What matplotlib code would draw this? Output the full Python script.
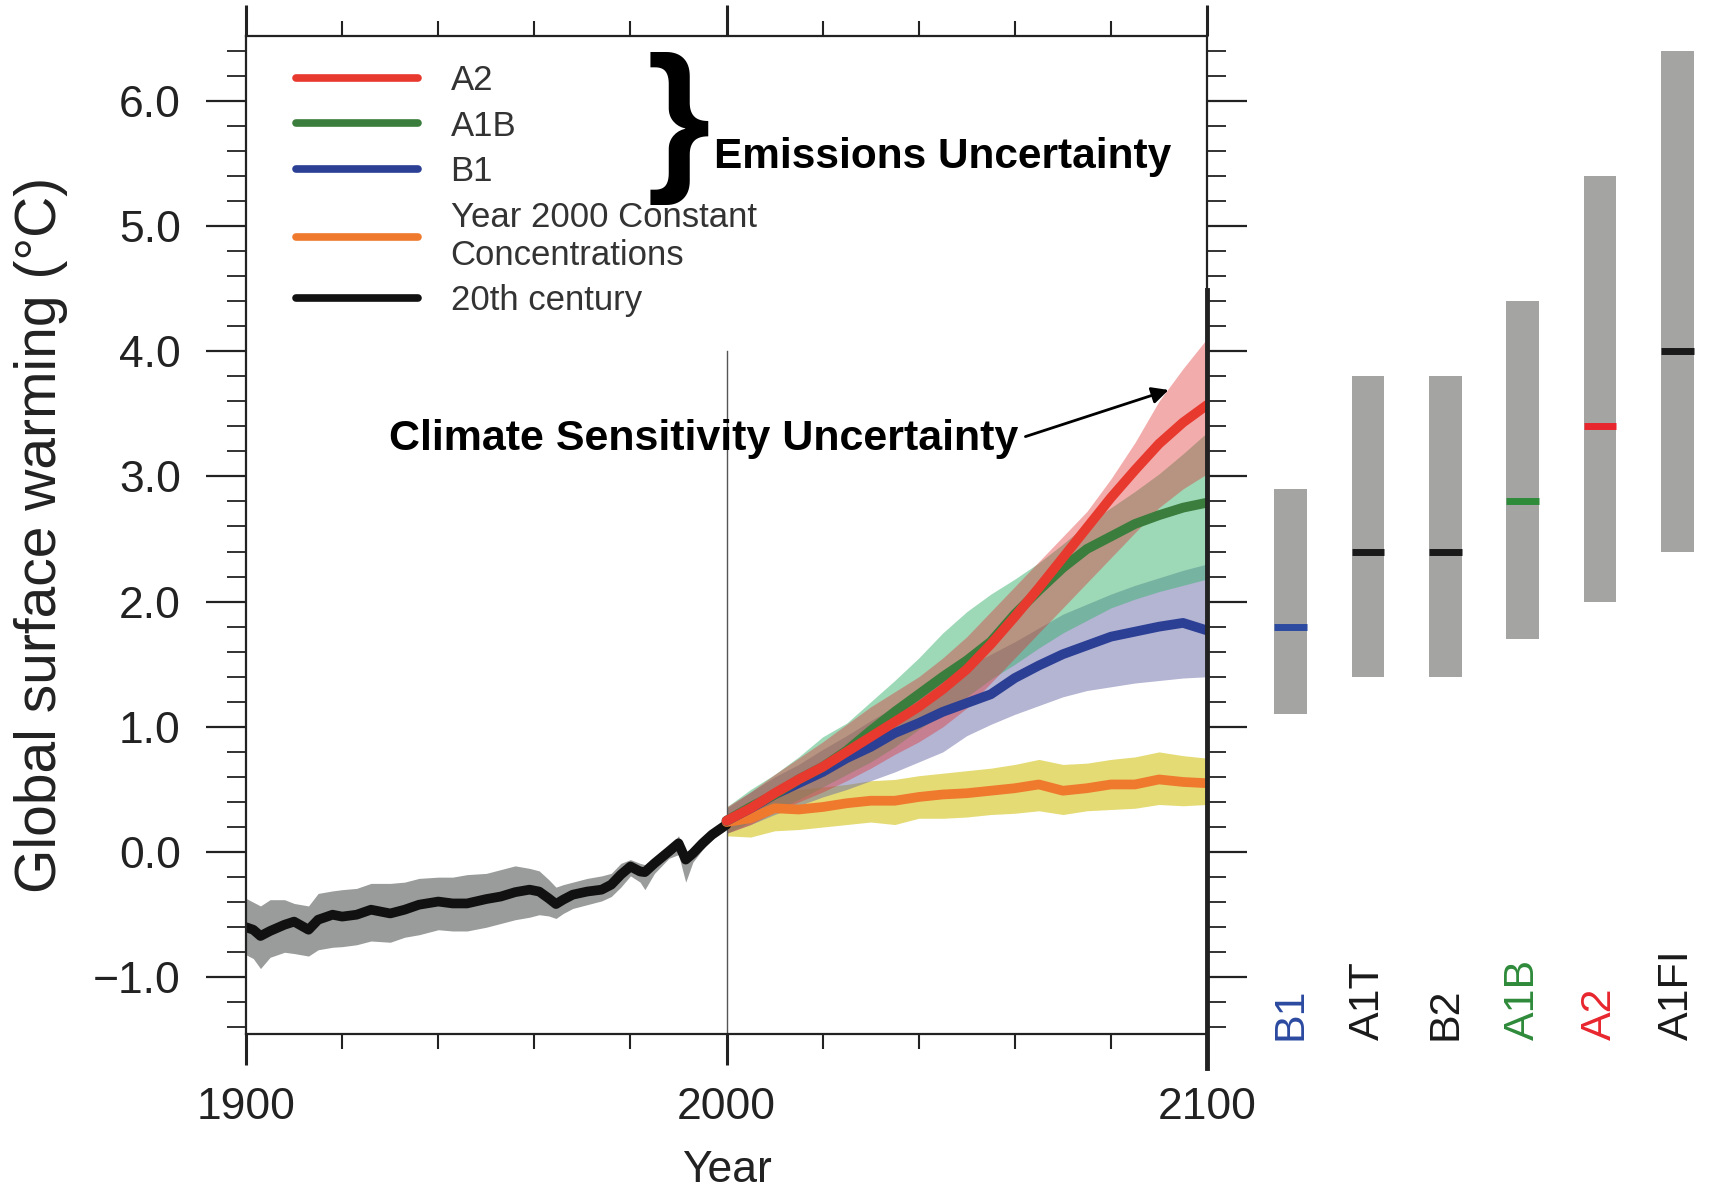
import numpy as np
import matplotlib.pyplot as plt

plt.rcParams['font.family'] = ['Liberation Sans', 'DejaVu Sans']

# 20th century simulation
hist_years = [1900, 1901.5, 1903, 1905, 1908, 1910, 1913, 1915, 1918, 1920, 1923, 1926, 1930, 1933,
              1936, 1940, 1943, 1946, 1950, 1953, 1956, 1959, 1961, 1963, 1964.5, 1966, 1968, 1971,
              1974, 1976, 1978, 1980, 1982, 1983, 1985, 1988, 1990, 1991.5, 1993, 1995, 1997, 2000]
hist_mean = [-0.60, -0.62, -0.67, -0.63, -0.58, -0.555, -0.62, -0.54, -0.50, -0.515, -0.50, -0.46,
             -0.49, -0.46, -0.42, -0.395, -0.41, -0.41, -0.375, -0.355, -0.32, -0.30, -0.315, -0.37,
             -0.415, -0.38, -0.34, -0.315, -0.30, -0.26, -0.18, -0.115, -0.155, -0.16, -0.09, 0.005,
             0.07, -0.06, -0.01, 0.07, 0.14, 0.22]
hist_hi = [-0.37, -0.40, -0.43, -0.38, -0.38, -0.41, -0.43, -0.33, -0.31, -0.30, -0.29, -0.25, -0.25,
           -0.24, -0.21, -0.20, -0.20, -0.18, -0.17, -0.14, -0.11, -0.13, -0.15, -0.22, -0.28, -0.26,
           -0.24, -0.21, -0.19, -0.17, -0.09, -0.06, -0.09, -0.10, -0.05, 0.04, 0.13, 0.00, 0.02,
           0.11, 0.17, 0.24]
hist_lo = [-0.82, -0.85, -0.93, -0.84, -0.80, -0.81, -0.83, -0.78, -0.76, -0.755, -0.74, -0.71, -0.72,
           -0.68, -0.66, -0.62, -0.63, -0.63, -0.60, -0.57, -0.54, -0.52, -0.50, -0.51, -0.53, -0.49,
           -0.45, -0.42, -0.39, -0.355, -0.28, -0.19, -0.24, -0.30, -0.17, -0.05, -0.02, -0.24, -0.08,
           0.02, 0.10, 0.18]

# scenario projections
proj_years = [2000, 2005, 2010, 2015, 2020, 2025, 2030, 2035, 2040, 2045, 2050,
              2055, 2060, 2065, 2070, 2075, 2080, 2085, 2090, 2095, 2100]
a2_mean = [0.25, 0.35, 0.47, 0.58, 0.68, 0.80, 0.92, 1.04, 1.16, 1.30, 1.46,
           1.66, 1.88, 2.11, 2.35, 2.59, 2.83, 3.05, 3.26, 3.43, 3.57]
a2_lo = [0.15, 0.22, 0.32, 0.40, 0.48, 0.57, 0.67, 0.78, 0.88, 1.00, 1.15,
         1.35, 1.55, 1.75, 1.95, 2.15, 2.35, 2.55, 2.75, 2.90, 3.02]
a2_hi = [0.36, 0.48, 0.62, 0.75, 0.88, 1.02, 1.16, 1.28, 1.40, 1.55, 1.72,
         1.92, 2.12, 2.32, 2.52, 2.72, 2.98, 3.27, 3.60, 3.86, 4.10]
a1b_mean = [0.25, 0.36, 0.46, 0.58, 0.68, 0.81, 0.97, 1.12, 1.26, 1.40, 1.53,
            1.68, 1.90, 2.09, 2.27, 2.42, 2.52, 2.62, 2.69, 2.75, 2.79]
a1b_lo = [0.15, 0.24, 0.33, 0.42, 0.52, 0.62, 0.72, 0.84, 0.98, 1.10, 1.24,
          1.38, 1.50, 1.63, 1.75, 1.85, 1.95, 2.02, 2.08, 2.13, 2.18]
a1b_hi = [0.36, 0.50, 0.62, 0.76, 0.92, 1.03, 1.20, 1.37, 1.55, 1.75, 1.92,
          2.06, 2.18, 2.31, 2.46, 2.62, 2.75, 2.88, 3.02, 3.18, 3.35]
b1_mean = [0.25, 0.35, 0.46, 0.55, 0.64, 0.75, 0.84, 0.95, 1.03, 1.12, 1.19,
           1.26, 1.39, 1.49, 1.58, 1.65, 1.72, 1.76, 1.80, 1.83, 1.77]
b1_lo = [0.15, 0.22, 0.30, 0.37, 0.44, 0.50, 0.57, 0.64, 0.72, 0.80, 0.93,
         1.02, 1.10, 1.17, 1.24, 1.29, 1.32, 1.35, 1.37, 1.39, 1.40]
b1_hi = [0.35, 0.48, 0.60, 0.70, 0.82, 0.93, 1.05, 1.16, 1.27, 1.38, 1.48,
         1.58, 1.68, 1.79, 1.90, 1.98, 2.06, 2.13, 2.19, 2.25, 2.30]
const_mean = [0.24, 0.27, 0.35, 0.34, 0.36, 0.39, 0.41, 0.41, 0.44, 0.46, 0.47,
              0.49, 0.51, 0.54, 0.49, 0.51, 0.54, 0.54, 0.58, 0.56, 0.55]
const_lo = [0.13, 0.12, 0.17, 0.18, 0.20, 0.22, 0.24, 0.22, 0.27, 0.27, 0.28,
            0.30, 0.31, 0.33, 0.30, 0.33, 0.34, 0.35, 0.38, 0.37, 0.38]
const_hi = [0.30, 0.38, 0.47, 0.50, 0.52, 0.54, 0.57, 0.58, 0.61, 0.63, 0.65,
            0.67, 0.70, 0.74, 0.70, 0.71, 0.74, 0.76, 0.80, 0.77, 0.75]

# AR4 likely ranges at 2100
scenarios = ['B1', 'A1T', 'B2', 'A1B', 'A2', 'A1FI']
best_est = [1.8, 2.4, 2.4, 2.8, 3.4, 4.0]
range_lo = [1.1, 1.4, 1.4, 1.7, 2.0, 2.4]
range_hi = [2.9, 3.8, 3.8, 4.4, 5.4, 6.4]
scen_colors = ['#2b4aa0', '#1a1a1a', '#1a1a1a', '#2e8b3a', '#e8262e', '#1a1a1a']

c_red = '#e8392f'
c_green = '#3a7d3c'
c_blue = '#2b3f94'
c_orange = '#ef7a2e'
c_black = '#111111'

fig = plt.figure(figsize=(17.16, 11.89), dpi=100)
ax = fig.add_axes([0.1434, 0.1302, 0.56, 0.8394])
ylim = (-1.454, 6.515)

# bands
ax.fill_between(hist_years, hist_lo, hist_hi, color='#9a9c9c', lw=0)
ax.fill_between(proj_years, const_lo, const_hi, color='#d9cc3a', alpha=0.7, lw=0)
ax.fill_between(proj_years, b1_lo, b1_hi, color='#6a6aa8', alpha=0.5, lw=0)
ax.fill_between(proj_years, a1b_lo, a1b_hi, color='#3cb371', alpha=0.5, lw=0)
ax.fill_between(proj_years, a2_lo, a2_hi, color='#e03030', alpha=0.4, lw=0)

ax.plot([2000, 2000], [ylim[0], 4.0], color='#555555', lw=1)

lw = 7
l_hist, = ax.plot(hist_years, hist_mean, color=c_black, lw=lw, solid_capstyle='round',
                  label='20th century')
l_const, = ax.plot(proj_years, const_mean, color=c_orange, lw=lw, solid_capstyle='round',
                   label='Year 2000 Constant\nConcentrations')
l_b1, = ax.plot(proj_years, b1_mean, color=c_blue, lw=lw, solid_capstyle='round', label='B1')
l_a1b, = ax.plot(proj_years, a1b_mean, color=c_green, lw=lw, solid_capstyle='round', label='A1B')
l_a2, = ax.plot(proj_years, a2_mean, color=c_red, lw=lw, solid_capstyle='round', label='A2')

ax.set_xlim(1900, 2100)
ax.set_ylim(*ylim)
ax.set_xticks([1900, 2000, 2100])
ax.set_xticks(np.arange(1920, 2100, 20), minor=True)
ax.set_yticks(np.arange(-1, 7, 1))
ax.set_yticks(np.arange(-1.4, 6.5, 0.2), minor=True)
ax.set_yticklabels(['\u22121.0', '0.0', '1.0', '2.0', '3.0', '4.0', '5.0', '6.0'])
ax.tick_params(axis='both', which='both', direction='out', top=True, right=True, colors='#222222')
ax.tick_params(axis='x', which='major', length=22, width=2.2, labelsize=32, pad=16)
ax.tick_params(axis='x', which='minor', length=11, width=1.5)
ax.tick_params(axis='y', which='major', length=29, width=1.6, labelsize=32, pad=18)
ax.tick_params(axis='y', which='minor', length=14, width=1.3)
for sp in ax.spines.values():
    sp.set_linewidth(1.6)
    sp.set_color('#222222')
ax.plot([2100, 2100], [-1.72, 4.49], color='#222222', lw=3.5, clip_on=False)

ax.set_xlabel('Year', fontsize=32, labelpad=16, color='#222222')
ax.set_ylabel('Global surface warming (\u00b0C)', fontsize=41, labelpad=18, color='#222222')

leg = ax.legend(handles=[l_a2, l_a1b, l_b1, l_const, l_hist], loc='upper left',
                bbox_to_anchor=(0.052, 0.972), frameon=False, fontsize=25, handlelength=3.5,
                handletextpad=0.95, labelspacing=0.36, borderpad=0, borderaxespad=0,
                labelcolor='#333333')
for h in leg.get_lines():
    h.set_linewidth(5.5)

# annotations
ax.text(1990, 5.78, '}', fontsize=118, fontweight='bold', ha='center', va='center')
ax.text(1997.3, 5.55, 'Emissions Uncertainty', fontsize=30.5, fontweight='bold', ha='left', va='center')
ax.annotate('Climate Sensitivity Uncertainty', xy=(2092, 3.69), xytext=(2060.8, 3.30),
            fontsize=31, fontweight='bold', ha='right', va='center',
            arrowprops=dict(arrowstyle='-|>', color='black', lw=2, mutation_scale=25,
                            shrinkA=3, shrinkB=0, relpos=(1.0, 0.5)))

# right panel with likely ranges
ax2 = fig.add_axes([0.7296, 0.1302, 0.2704, 0.8394])
xpos = np.arange(len(scenarios))
ax2.bar(xpos, np.array(range_hi) - np.array(range_lo), bottom=range_lo, width=0.42, color='#a4a5a3')
for i in xpos:
    ax2.plot([i - 0.21, i + 0.21], [best_est[i], best_est[i]], color=scen_colors[i], lw=5,
             solid_capstyle='butt')
    ax2.text(i, -1.5, scenarios[i], rotation=90, ha='center', va='bottom', fontsize=31,
             color=scen_colors[i])
ax2.set_xlim(-0.5, 5.5)
ax2.set_ylim(*ylim)
ax2.axis('off')

fig.savefig('out.png', dpi=100)
